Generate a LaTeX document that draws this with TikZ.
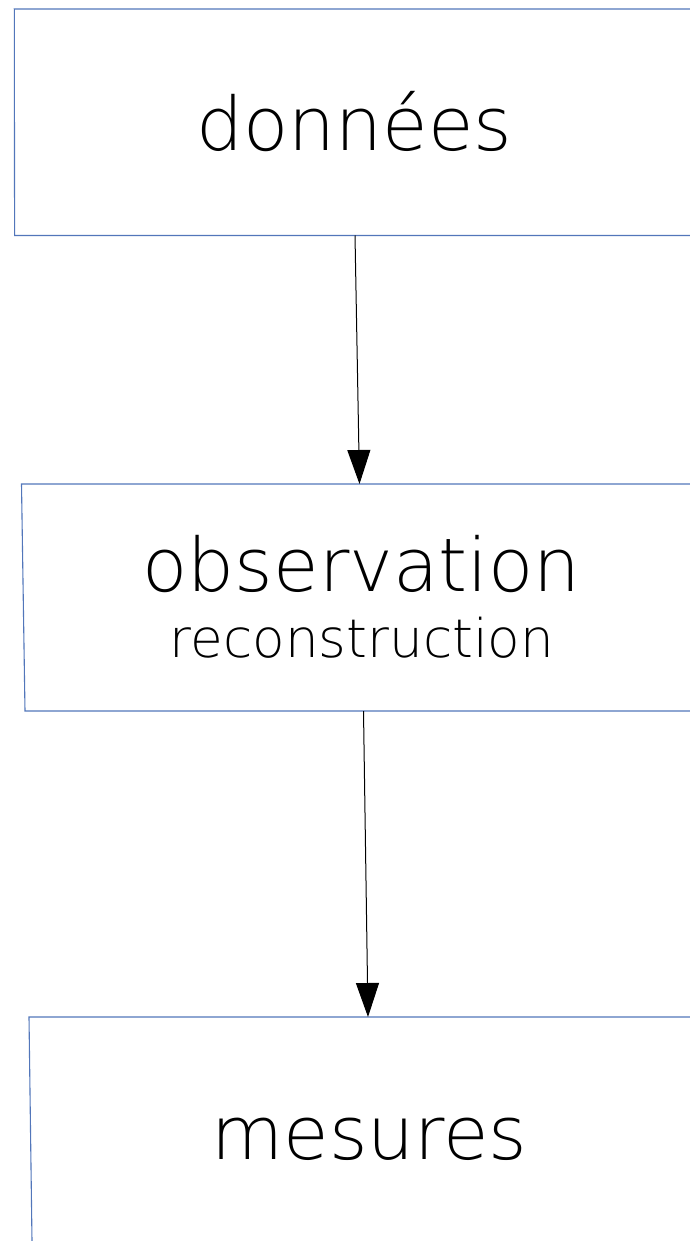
\documentclass[tikz,border=0pt]{standalone}
\usepackage{fontspec}
\setmainfont{DejaVuSans-ExtraLight}[Extension=.ttf]
\usetikzlibrary{arrows.meta}
\definecolor{boxblue}{RGB}{82,118,186}
\tikzset{
  boxline/.style={draw=boxblue, line width=1.1pt},
  conn/.style={draw=black, line width=1pt, -{Triangle[width=23pt,length=34pt]}},
  bigtxt/.style={anchor=base, inner sep=0pt, font=\fontsize{74}{80}\selectfont},
  smalltxt/.style={anchor=base, inner sep=0pt, font=\fontsize{53.2}{60}\selectfont},
}
\begin{document}
\begin{tikzpicture}[x=1pt,y=-1pt]
\useasboundingbox (0,0) rectangle (690,1241);
% boxes (cut at the right edge)
\draw[boxline] (690,9) -- (14.3,9) -- (14.6,235.5) -- (690,235.5);
\draw[boxline] (690,484) -- (21.5,484) -- (25,711) -- (690,711);
\draw[boxline] (690,1017) -- (29,1017) -- (32,1241);
% texts
\node[bigtxt] (t1) at (354.5,151) {données};
\node[bigtxt] (t2) at (361.5,591) {observation};
\node[smalltxt] (t3) at (362,657) {reconstruction};
\node[bigtxt] (t4) at (369.5,1159) {mesures};
% connector ends
\coordinate (a1) at (355,235.5);
\coordinate (b1) at (359.5,484);
\coordinate (a2) at (363.5,711);
\coordinate (b2) at (368,1017);
\draw[conn] (a1) -- (b1);
\draw[conn] (a2) -- (b2);
\end{tikzpicture}
\end{document}
